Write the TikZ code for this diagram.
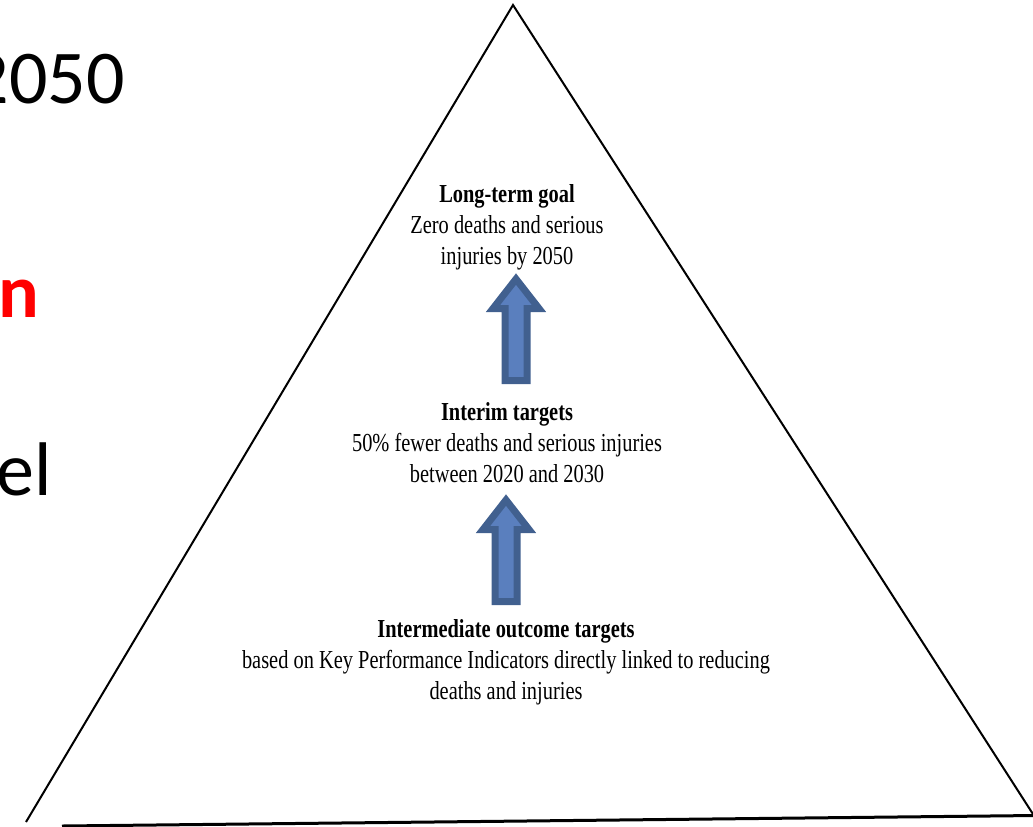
\documentclass[tikz,border=0pt]{standalone}
\usepackage{fontspec}
\setmainfont{Liberation Serif}
\newfontfamily\slidefont{Carlito}
\usepackage{xcolor}
\usepackage{tikz}
\usetikzlibrary{positioning,calc}
\definecolor{arrowblue}{HTML}{5A7FBE}
\definecolor{arrowedge}{HTML}{41608F}
\definecolor{slidered}{HTML}{FF0000}
\tikzset{
  txt/.style={align=center, inner sep=0pt, yscale=1.27,
              font=\fontsize{10.2}{12.2}\selectfont},
  frag/.style={anchor=base east, inner sep=0pt,
               font=\slidefont\fontsize{38}{40}\selectfont},
  side/.style={line width=1pt, draw=black},
  uparr/.style={draw=arrowedge, fill=arrowblue, line width=3.5pt, line join=miter},
}

\begin{document}
\begin{tikzpicture}[x=0.5pt, y=-0.5pt]
  \useasboundingbox (0,0) rectangle (1033,826);
  \clip (0,0) rectangle (1033,826);

  % slide text cut at the left edge
  \node[frag] (year) at (125,103) {2050};
  \node[frag, color=slidered, font=\slidefont\bfseries\fontsize{38}{40}\selectfont] (redn) at (40,317) {n};
  \node[frag] (model) at (52,495) {el};

  % triangle
  \coordinate (apex) at (513,5);
  \coordinate (lcorner) at (26,822);
  \coordinate (rcorner) at (1040,825);
  \draw[side] (lcorner) -- (apex) -- (rcorner);
  \draw[side, line width=1.5pt] (62,826) -- (1035,815.5);

  % levels
  \node[txt] (goal) at (507,227) {\textbf{Long-term goal}\\Zero deaths and serious\\injuries by 2050};
  \node[txt] (interim) at (507,443) {\textbf{Interim targets}\\50\% fewer deaths and serious injuries\\between 2020 and 2030};
  \node[txt] (kpi) at (506,662) {\textbf{Intermediate outcome targets}\\based on Key Performance Indicators directly linked to reducing\\deaths and injuries};

  % block arrows
  \coordinate (tipA) at (516,273);
  \coordinate (tipB) at (506,494);
  \draw[uparr] (tipA) ++(0,6) -- ++(23,29.5) -- ++(-12,0) -- ++(0,72) -- ++(-22,0) -- ++(0,-72) -- ++(-12,0) -- cycle;
  \draw[uparr] (tipB) ++(0,6) -- ++(23,29.5) -- ++(-12,0) -- ++(0,72) -- ++(-22,0) -- ++(0,-72) -- ++(-12,0) -- cycle;
\end{tikzpicture}
\end{document}
